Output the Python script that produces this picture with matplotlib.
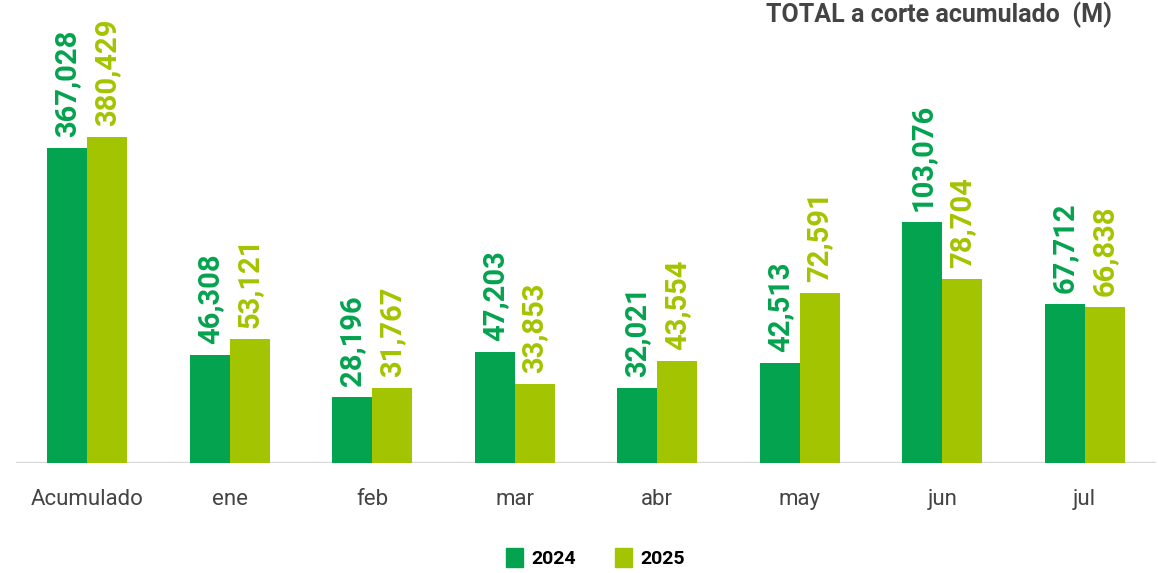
import matplotlib
matplotlib.use("Agg")
import matplotlib.pyplot as plt

categories = ["Acumulado", "ene", "feb", "mar", "abr", "may", "jun", "jul"]
v2024 = [367028, 46308, 28196, 47203, 32021, 42513, 103076, 67712]
v2025 = [380429, 53121, 31767, 33853, 43554, 72591, 78704, 66838]
series_names = ["2024", "2025"]
title = "TOTAL a corte acumulado  (M)"

c24 = "#04a34f"
c25 = "#a3c400"
grey = "#444444"
font = "Roboto"

fig = plt.figure(figsize=(11.58, 5.73), dpi=100)
ax = fig.add_axes([16 / 1158, 110.3 / 573, 1140 / 1158, 452.7 / 573])
ax2 = ax.twinx()

w = 0.28
x = list(range(len(categories)))

# Acumulado uses its own scale (secondary axis), months on the primary axis
ax2.bar([x[0] - w / 2], [v2024[0]], w, color=c24)
ax2.bar([x[0] + w / 2], [v2025[0]], w, color=c25)
ax.bar([i - w / 2 for i in x[1:]], v2024[1:], w, color=c24)
ax.bar([i + w / 2 for i in x[1:]], v2025[1:], w, color=c25)

ax.set_ylim(0, 452.7 * 428)
ax2.set_ylim(0, 452.7 * 1167)
ax.set_xlim(-0.5, len(categories) - 0.5)

def label(a, xpos, val, col):
    a.annotate(f"{val:,}", (xpos, val), xytext=(0, 11), textcoords="offset pixels",
               rotation=90, ha="center", va="bottom", color=col,
               fontsize=21, fontweight="bold", family=font)

label(ax2, x[0] - w / 2, v2024[0], c24)
label(ax2, x[0] + w / 2, v2025[0], c25)
for i in x[1:]:
    label(ax, i - w / 2, v2024[i], c24)
    label(ax, i + w / 2, v2025[i], c25)

for a in (ax, ax2):
    for s in a.spines.values():
        s.set_visible(False)
    a.set_yticks([])
ax.axhline(0, color="#d9d9d9", lw=2.5, zorder=0)

ax.set_xticks(x)
ax.set_xticklabels(categories, fontsize=16, color=grey, family=font)
ax.tick_params(axis="x", length=0, pad=19)

fig.text(0.96, 0.974, title, ha="right", va="center", fontsize=18,
         fontweight="bold", color=grey, family=font)

handles = [plt.Rectangle((0, 0), 1, 1, color=c) for c in (c24, c25)]
leg = fig.legend(handles, series_names, loc="center", bbox_to_anchor=(0.514, 0.026),
                 ncol=2, frameon=False, handlelength=0.9, handleheight=1.1,
                 handletextpad=0.4, columnspacing=2.0,
                 prop={"family": font, "weight": "bold", "size": 14})

fig.savefig("out.png", dpi=100)
